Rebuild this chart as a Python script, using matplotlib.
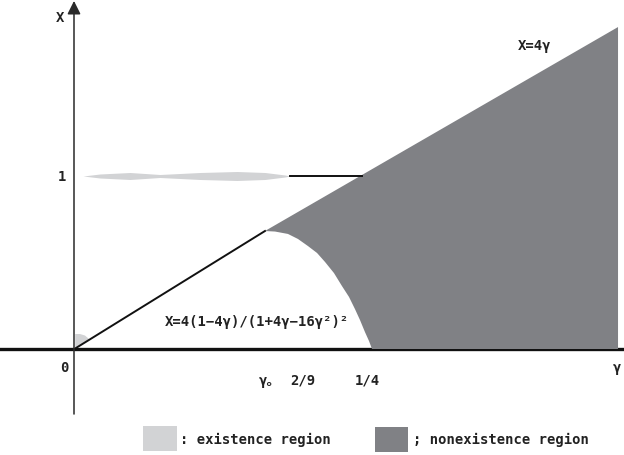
import matplotlib.pyplot as plt
from matplotlib.patches import Polygon, Rectangle

# schematic coordinates (gamma, X)
line_gamma = [0.0017, 0.1602]
line_X = [0.006, 0.682]

upper_gamma = [0.1602, 0.4564]
upper_X = [0.682, 1.861]

curve_gamma = [0.1602, 0.1686, 0.1795, 0.1879, 0.1963, 0.2039, 0.2106, 0.2181,
               0.2248, 0.2307, 0.2357, 0.2399, 0.2441, 0.2475, 0.25]
curve_X = [0.682, 0.679, 0.665, 0.636, 0.595, 0.555, 0.503, 0.439,
           0.364, 0.301, 0.231, 0.168, 0.098, 0.046, 0.0]

# existence "lens" along X = 1
lens_gamma = [0.0076, 0.0218, 0.047, 0.0721, 0.1057, 0.1367, 0.1602, 0.1770, 0.1812]
lens_half = [0.0, 0.0116, 0.0202, 0.0087, 0.0202, 0.026, 0.0202, 0.0058, 0.0]
bar_gamma = [0.1812, 0.242]

# small existence wedge near the origin
wedge_gamma = [0.0010, 0.0010, 0.0050, 0.0092, 0.0126, 0.0017]
wedge_X = [0.006, 0.0867, 0.0867, 0.078, 0.0578, 0.006]

tick_labels = ['2/9', '1/4']
tick_pos = [0.192, 0.2458]

light = '#d2d3d5'
dark = '#808185'
font = ['DejaVu Sans Mono', 'Noto Sans CJK JP']

fig = plt.figure(figsize=(6.24, 4.56), dpi=100)
ax = fig.add_axes([0, 0, 1, 1])
ax.set_xlim(-74 / 1192, 550 / 1192)
ax.set_ylim(-106 / 173, 350 / 173)
ax.axis('off')

# axes
ax.plot([-74 / 1192, 550 / 1192], [0, 0], color='#111111', lw=2.4, zorder=1)
ax.annotate('', xy=(0, 2.012), xytext=(0, -0.376),
            arrowprops=dict(arrowstyle='-|>', color='#2a2a2a', lw=1.1,
                            mutation_scale=20, shrinkA=0, shrinkB=0), zorder=1)

# nonexistence region
dark_pts = [(g, x) for g, x in zip(upper_gamma, upper_X)]
dark_pts.append((upper_gamma[-1], 0.0))
dark_pts += [(g, x) for g, x in zip(curve_gamma[::-1], curve_X[::-1])]
ax.add_patch(Polygon(dark_pts, closed=True, facecolor=dark, edgecolor='none', zorder=2))

# existence regions
top = [1 + h for h in lens_half]
bot = [1 - h for h in lens_half]
ax.fill_between(lens_gamma, bot, top, color=light, lw=0, zorder=2)
ax.add_patch(Polygon(list(zip(wedge_gamma, wedge_X)), closed=True,
                     facecolor=light, edgecolor='none', zorder=2))

ax.plot(line_gamma, line_X, color='#111111', lw=1.4, zorder=3)
ax.plot(bar_gamma, [1, 1], color='#111111', lw=1.4, zorder=3)

kw = dict(family=font, fontweight='bold', fontsize=10, color='#222222')
ax.text(-0.0117, 1.919, 'X', ha='center', va='center', **kw)
ax.text(-0.0101, 1.0, '1', ha='center', va='center', **kw)
ax.text(-0.0084, -0.104, '0', ha='center', va='center', **kw)
ax.text(0.1644, -0.179, 'γ。', ha='center', va='center', **kw)
for lab, pos in zip(tick_labels, tick_pos):
    ax.text(pos, -0.179, lab, ha='center', va='center', **kw)
ax.text(0.4555, -0.104, 'γ', ha='center', va='center', **kw)
ax.text(0.3867, 1.757, 'X=4γ', ha='center', va='center', **kw)
ax.text(0.0763, 0.162, 'X=4(1−4γ)/(1+4γ−16γ²)²', ha='left', va='center', **kw)

# legend
W, H = 624, 456
fig.patches.append(Rectangle((143 / W, 1 - 452 / H), 34 / W, 25 / H,
                             transform=fig.transFigure, facecolor=light, edgecolor='none'))
fig.patches.append(Rectangle((375 / W, 1 - 453 / H), 33 / W, 25 / H,
                             transform=fig.transFigure, facecolor=dark, edgecolor='none'))
fig.text(180 / W, 1 - 440 / H, ': existence region', ha='left', va='center', **kw)
fig.text(413 / W, 1 - 440 / H, '; nonexistence region', ha='left', va='center', **kw)

fig.savefig('out.png', dpi=100)
